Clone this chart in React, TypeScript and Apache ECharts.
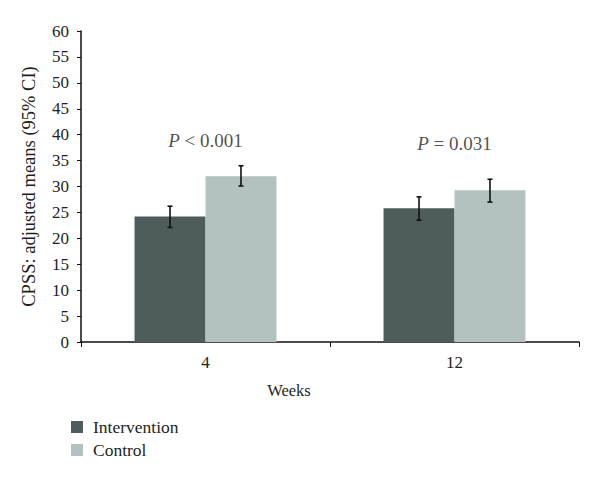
import React, { useEffect, useRef } from "react";
import * as echarts from "echarts";

const categories = ["4", "12"];
const interventionMeans = [24.2, 25.8];
const controlMeans = [32.0, 29.3];
const interventionLow = [22.1, 23.5];
const interventionHigh = [26.2, 28.0];
const controlLow = [30.1, 27.0];
const controlHigh = [34.0, 31.4];
const pLabels = ["< 0.001", "= 0.031"];
const pLabelY = [38.8, 38.3];
const yTicks = { min: 0, max: 60, interval: 5 };

const FONT = "Liberation Serif";
const TXT = "#231f20";
const GAP = 0.43;

export default function App() {
  const ref = useRef<HTMLDivElement>(null);
  useEffect(() => {
    const chart = echarts.init(ref.current!, null, { renderer: "svg" });
    const errRender = (side: number) => (params: any, api: any) => {
      const x = api.value(0);
      const lo = api.coord([x, api.value(1)]);
      const hi = api.coord([x, api.value(2)]);
      const band = api.size([1, 0])[0];
      const off = (side * band * (1 - GAP)) / 4;
      const cx = lo[0] + off;
      const cap = 2.5;
      const st = { stroke: "#111", lineWidth: 1.6 };
      return {
        type: "group",
        children: [
          { type: "line", shape: { x1: cx, y1: lo[1], x2: cx, y2: hi[1] }, style: st },
          { type: "line", shape: { x1: cx - cap, y1: lo[1], x2: cx + cap, y2: lo[1] }, style: st },
          { type: "line", shape: { x1: cx - cap, y1: hi[1], x2: cx + cap, y2: hi[1] }, style: st },
        ],
      };
    };
    chart.setOption({
      animation: false,
      backgroundColor: "#ffffff",
      textStyle: { fontFamily: FONT, color: TXT },
      grid: { left: 81, right: 21, top: 31, bottom: 143, containLabel: false },
      legend: {
        data: ["Intervention", "Control"],
        orient: "vertical",
        left: 66,
        top: 413,
        itemWidth: 12,
        itemHeight: 12,
        itemGap: 5,
        icon: "rect",
        textStyle: { fontFamily: FONT, fontSize: 17.5, color: TXT, padding: [0, 0, 0, 5] },
      },
      xAxis: {
        type: "category",
        data: categories,
        name: "Weeks",
        nameLocation: "middle",
        nameGap: 40,
        nameTextStyle: { fontFamily: FONT, fontSize: 16.5, color: TXT, padding: [0, 82, 0, 0] },
        axisLine: { lineStyle: { color: "#111", width: 1.5 } },
        axisTick: { show: true, length: 5, lineStyle: { color: "#111" } },
        axisLabel: { fontFamily: FONT, fontSize: 17, color: TXT, margin: 12 },
      },
      yAxis: {
        type: "value",
        min: yTicks.min,
        max: yTicks.max,
        interval: yTicks.interval,
        name: "CPSS: adjusted means (95% CI)",
        nameLocation: "middle",
        nameGap: 43,
        nameTextStyle: { fontFamily: FONT, fontSize: 18.5, color: TXT },
        axisLine: { show: true, lineStyle: { color: "#111", width: 1.5 } },
        axisTick: { show: true, length: 4, lineStyle: { color: "#111" } },
        axisLabel: { fontFamily: FONT, fontSize: 17, color: TXT, margin: 12 },
        splitLine: { show: false },
      },
      series: [
        {
          name: "Intervention",
          type: "bar",
          data: interventionMeans,
          barGap: "0%",
          barCategoryGap: GAP * 100 + "%",
          itemStyle: { color: "#4f5c5c" },
        },
        {
          name: "Control",
          type: "bar",
          data: controlMeans,
          barGap: "0%",
          barCategoryGap: GAP * 100 + "%",
          itemStyle: { color: "#b3c1c0" },
        },
        {
          name: "errI",
          type: "custom",
          renderItem: errRender(-1),
          data: categories.map((_, i) => [i, interventionLow[i], interventionHigh[i]]),
          z: 10,
        },
        {
          name: "errC",
          type: "custom",
          renderItem: errRender(1),
          data: categories.map((_, i) => [i, controlLow[i], controlHigh[i]]),
          z: 10,
        },
        {
          name: "pvals",
          type: "scatter",
          symbolSize: 0,
          data: categories.map((_, i) => [i, pLabelY[i]]),
          label: {
            show: true,
            position: "inside",
            formatter: (p: any) => "{i|P} " + pLabels[p.dataIndex],
            fontFamily: FONT,
            fontSize: 19,
            color: TXT,
            rich: { i: { fontStyle: "italic", fontFamily: FONT, fontSize: 19, color: TXT } },
          },
          z: 10,
        },
      ],
    });
    return () => chart.dispose();
  }, []);
  return (
    <div
      ref={ref}
      style={{ position: "fixed", left: 0, top: 0, width: 600, height: 485, background: "#fff" }}
    />
  );
}
